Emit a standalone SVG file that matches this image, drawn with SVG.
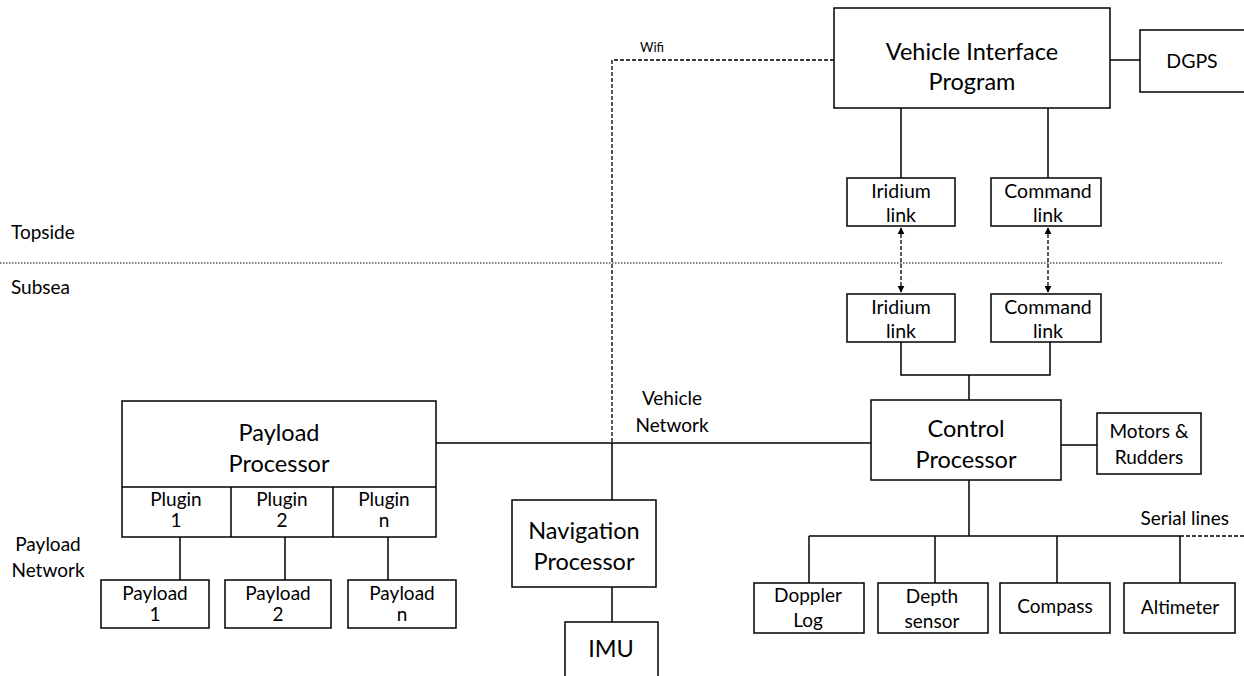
<svg xmlns="http://www.w3.org/2000/svg" width="1244" height="676" viewBox="0 0 1244 676">
<style>
.box{fill:#fff;stroke:#000;stroke-width:1.5}
.ln{fill:none;stroke:#000;stroke-width:1.5}
.dash{fill:none;stroke:#000;stroke-width:1.3;stroke-dasharray:4 2}
.dot{fill:none;stroke:#000;stroke-width:1.2;stroke-dasharray:1.5 1.5}
text{font-family:Lato,"Open Sans","Liberation Sans",sans-serif;fill:#000;text-anchor:middle}
.big{font-size:23.5px}
.med{font-size:19.5px}
.sm{font-size:19px}
.xs{font-size:13px}
.l{text-anchor:start}
.r{text-anchor:end}
</style>
<defs>
<marker id="ah" viewBox="0 0 10 10" refX="9" refY="5" markerWidth="7" markerHeight="7" orient="auto-start-reverse" markerUnits="userSpaceOnUse">
<path d="M0,0 L10,5 L0,10 z" fill="#000"/>
</marker>
</defs>
<rect width="1244" height="676" fill="#fff"/>

<g id="labels">
<text class="sm l" x="11" y="239">Topside</text>
<text class="sm l" x="11" y="294">Subsea</text>
<text class="xs l" x="640" y="52">Wifi</text>
<text class="sm" x="672" y="405">Vehicle</text>
<text class="sm" x="672" y="432">Network</text>
<text class="sm" x="48" y="551">Payload</text>
<text class="sm" x="48" y="577">Network</text>
<text class="sm r" x="1229" y="525">Serial lines</text>
</g>

<g id="connectors">
<line class="dot" x1="0" y1="263" x2="1222" y2="263"/>
<polyline class="dash" points="834,60 612,60 612,443"/>
<line class="ln" x1="612" y1="443" x2="612" y2="500"/>
<line class="ln" x1="1110" y1="60" x2="1140" y2="60"/>
<line class="ln" x1="901" y1="108" x2="901" y2="178"/>
<line class="ln" x1="1048" y1="108" x2="1048" y2="178"/>
<line class="dash" x1="901" y1="228" x2="901" y2="292" marker-start="url(#ah)" marker-end="url(#ah)"/>
<line class="dash" x1="1048" y1="228" x2="1048" y2="292" marker-start="url(#ah)" marker-end="url(#ah)"/>
<polyline class="ln" points="901,342 901,375 1050,375 1050,342"/>
<line class="ln" x1="969" y1="375" x2="969" y2="400"/>
<line class="ln" x1="436" y1="443" x2="871" y2="443"/>
<line class="ln" x1="1061" y1="445" x2="1097" y2="445"/>
<line class="ln" x1="969" y1="480" x2="969" y2="536"/>
<line class="ln" x1="809" y1="536" x2="1180" y2="536"/>
<line class="dash" x1="1180" y1="536" x2="1244" y2="536"/>
<line class="ln" x1="809" y1="536" x2="809" y2="583"/>
<line class="ln" x1="935" y1="536" x2="935" y2="583"/>
<line class="ln" x1="1057" y1="536" x2="1057" y2="583"/>
<line class="ln" x1="1180" y1="536" x2="1180" y2="583"/>
<line class="ln" x1="180" y1="537" x2="180" y2="580"/>
<line class="ln" x1="285" y1="537" x2="285" y2="580"/>
<line class="ln" x1="388" y1="537" x2="388" y2="580"/>
<line class="ln" x1="612" y1="587" x2="612" y2="622"/>
</g>

<g id="vip">
<rect class="box" x="834" y="8" width="276" height="100"/>
<text class="big" x="972" y="60">Vehicle Interface</text>
<text class="big" x="972" y="90">Program</text>
</g>
<g id="dgps">
<rect class="box" x="1140" y="30" width="110" height="62"/>
<text class="med" x="1192" y="68">DGPS</text>
</g>
<g id="iridium-top">
<rect class="box" x="847" y="178" width="108" height="48"/>
<text class="med" x="901" y="198">Iridium</text>
<text class="med" x="901" y="222">link</text>
</g>
<g id="command-top">
<rect class="box" x="991" y="178" width="110" height="48"/>
<text class="med" x="1048" y="198">Command</text>
<text class="med" x="1048" y="222">link</text>
</g>
<g id="iridium-bottom">
<rect class="box" x="847" y="294" width="108" height="48"/>
<text class="med" x="901" y="314">Iridium</text>
<text class="med" x="901" y="338">link</text>
</g>
<g id="command-bottom">
<rect class="box" x="991" y="294" width="110" height="48"/>
<text class="med" x="1048" y="314">Command</text>
<text class="med" x="1048" y="338">link</text>
</g>
<g id="control">
<rect class="box" x="871" y="400" width="190" height="80"/>
<text class="big" x="966" y="437">Control</text>
<text class="big" x="966" y="468">Processor</text>
</g>
<g id="motors">
<rect class="box" x="1097" y="413" width="104" height="61"/>
<text class="sm" x="1149" y="438">Motors &amp;</text>
<text class="sm" x="1149" y="464">Rudders</text>
</g>
<g id="payload-processor">
<rect class="box" x="122" y="401" width="314" height="136"/>
<line class="ln" x1="122" y1="487" x2="436" y2="487"/>
<line class="ln" x1="231" y1="487" x2="231" y2="537"/>
<line class="ln" x1="333" y1="487" x2="333" y2="537"/>
<text class="big" x="279" y="441">Payload</text>
<text class="big" x="279" y="472">Processor</text>
<text class="sm" x="176" y="506">Plugin</text>
<text class="sm" x="176" y="527">1</text>
<text class="sm" x="282" y="506">Plugin</text>
<text class="sm" x="282" y="527">2</text>
<text class="sm" x="384" y="506">Plugin</text>
<text class="sm" x="384" y="527">n</text>
</g>
<g id="payload1">
<rect class="box" x="101" y="580" width="108" height="48"/>
<text class="sm" x="155" y="600">Payload</text>
<text class="sm" x="155" y="621">1</text>
</g>
<g id="payload2">
<rect class="box" x="225" y="580" width="106" height="48"/>
<text class="sm" x="278" y="600">Payload</text>
<text class="sm" x="278" y="621">2</text>
</g>
<g id="payloadn">
<rect class="box" x="348" y="580" width="108" height="48"/>
<text class="sm" x="402" y="600">Payload</text>
<text class="sm" x="402" y="621">n</text>
</g>
<g id="navigation">
<rect class="box" x="512" y="500" width="144" height="87"/>
<text class="big" x="584" y="539">Navigation</text>
<text class="big" x="584" y="570">Processor</text>
</g>
<g id="imu">
<rect class="box" x="565" y="622" width="93" height="60"/>
<text class="big" x="611" y="657">IMU</text>
</g>
<g id="doppler">
<rect class="box" x="754" y="583" width="110" height="50"/>
<text class="sm" x="808" y="602">Doppler</text>
<text class="sm" x="808" y="627">Log</text>
</g>
<g id="depth">
<rect class="box" x="878" y="583" width="110" height="50"/>
<text class="sm" x="932" y="603">Depth</text>
<text class="sm" x="932" y="628">sensor</text>
</g>
<g id="compass">
<rect class="box" x="1000" y="583" width="110" height="50"/>
<text class="sm" x="1055" y="613">Compass</text>
</g>
<g id="altimeter">
<rect class="box" x="1124" y="583" width="111" height="50"/>
<text class="sm" x="1180" y="614">Altimeter</text>
</g>
</svg>
